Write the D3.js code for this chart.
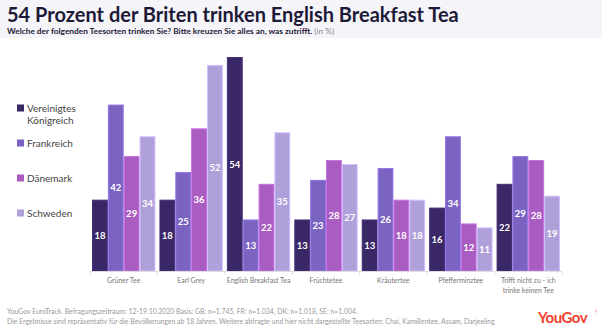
<!DOCTYPE html>
<html>
<head>
<meta charset="utf-8">
<script src="https://cdn.jsdelivr.net/npm/d3@7"></script>
<style>
  body { margin: 0; background: #fff; }
  svg { display: block; font-family: Lato, "Open Sans", sans-serif; }
</style>
</head>
<body>
<svg width="602" height="329"></svg>
<script>
// categories (two-line labels split by |)
var categories = ["Grüner Tee", "Earl Grey", "English Breakfast Tea", "Früchtetee", "Kräutertee", "Pfefferminztee", "Trifft nicht zu - ich|trinke keinen Tee"];
var countries = ["Vereinigtes Königreich", "Frankreich", "Dänemark", "Schweden"];
var colors = ["#392766", "#7b63c1", "#a95dc0", "#afa0da"];

// values in %, one array per country
var uk = [18, 18, 54, 13, 13, 16, 22];
var fr = [42, 25, 13, 23, 26, 34, 29];
var dk = [29, 36, 22, 28, 18, 12, 28];
var se = [34, 52, 35, 27, 18, 11, 19];
var series = [uk, fr, dk, se];

var svg = d3.select("svg");

// header band
svg.append("rect").attr("x", 0).attr("y", 0).attr("width", 602).attr("height", 38).attr("fill", "#f5f4f9");
svg.append("text").attr("x", 7).attr("y", 22)
  .attr("font-size", 20).attr("font-weight", 700).attr("fill", "#1d1a38")
  .text("54 Prozent der Briten trinken English Breakfast Tea");
var sub = svg.append("text").attr("x", 7).attr("y", 33.5)
  .attr("font-size", 8.3).attr("font-weight", 700).attr("fill", "#1d1a38");
sub.append("tspan").text("Welche der folgenden Teesorten trinken Sie? Bitte kreuzen Sie alles an, was zutrifft. ");
sub.append("tspan").attr("font-weight", 400).attr("fill", "#888").text("(in %)");

// scales
var x0 = d3.scaleBand().domain(categories).range([90, 562]).paddingInner(0.06).paddingOuter(0.03);
var x1 = d3.scaleBand().domain(d3.range(4)).range([0, x0.bandwidth()]);
var y = d3.scaleLinear().domain([0, 54]).range([271, 57]);

// bars
var groups = svg.selectAll(".grp")
  .data(categories)
  .enter().append("g")
    .attr("transform", function(d) { return "translate(" + x0(d) + ",0)"; });

groups.each(function(cat, ci) {
  var g = d3.select(this);
  series.forEach(function(s, si) {
    var v = s[ci];
    g.append("rect")
      .attr("x", x1(si) + 0.5)
      .attr("y", y(v) + 0.5)
      .attr("width", x1.bandwidth() - 1)
      .attr("height", y(0) - y(v) - 0.5)
      .attr("fill", colors[si])
      .attr("stroke", d3.color(colors[si]).brighter(0.5))
      .attr("stroke-width", 1);
    g.append("text")
      .attr("x", x1(si) + x1.bandwidth() / 2)
      .attr("y", (y(v) + y(0)) / 2 + 3.5)
      .attr("text-anchor", "middle")
      .attr("font-size", 9.5).attr("font-weight", 700).attr("fill", "#fff")
      .text(v);
  });
});

// axis line and ticks
svg.append("line").attr("x1", 90).attr("x2", 562).attr("y1", 271.5).attr("y2", 271.5)
  .attr("stroke", "#ddd").attr("stroke-width", 1);
var tickX = categories.map(function(c) { return x0(c) - x0.step() * x0.paddingInner() / 2; });
tickX.push(x0(categories[6]) + x0.bandwidth() + x0.step() * x0.paddingInner() / 2);
svg.selectAll(".tk").data(tickX).enter().append("line")
  .attr("x1", function(d) { return d; }).attr("x2", function(d) { return d; })
  .attr("y1", 271.5).attr("y2", 275)
  .attr("stroke", "#ddd");

// category labels
groups.append("text")
  .attr("x", x0.bandwidth() / 2)
  .attr("y", 283)
  .attr("text-anchor", "middle")
  .attr("font-size", 6.9).attr("fill", "#777")
  .selectAll("tspan")
  .data(function(d) { return d.split("|"); })
  .enter().append("tspan")
    .attr("x", x0.bandwidth() / 2)
    .attr("dy", function(d, i) { return i ? 10 : 0; })
    .text(function(d) { return d; });

// legend
var legendY = [112, 147, 182, 217];
countries.forEach(function(c, i) {
  svg.append("rect").attr("x", 17).attr("y", legendY[i] - 7.5).attr("width", 7).attr("height", 7).attr("fill", colors[i]);
  var words = i === 0 ? ["Vereinigtes", "Königreich"] : [c];
  words.forEach(function(w, j) {
    svg.append("text").attr("x", 27).attr("y", legendY[i] + j * 12)
      .attr("font-size", 10).attr("fill", "#444").text(w);
  });
});

// footer
svg.append("text").attr("x", 7).attr("y", 314).attr("font-size", 6.9).attr("fill", "#999")
  .text("YouGov EuroTrack. Befragungszeitraum: 12-19.10.2020 Basis: GB: n=1.745, FR: n=1.034, DK: n=1.018, SE: n=1.004.");
svg.append("text").attr("x", 7).attr("y", 323.5).attr("font-size", 6.9).attr("fill", "#999")
  .text("Die Ergebnisse sind repräsentativ für die Bevölkerungen ab 18 Jahren. Weitere abfragte und hier nicht dargestellte Teesorten: Chai, Kamillentee, Assam, Darjeeling");
svg.append("text").attr("x", 538).attr("y", 323).attr("font-size", 15).attr("font-weight", 700)
  .attr("fill", "#f0412d").attr("letter-spacing", -0.5).text("YouGov");
svg.append("text").attr("x", 595).attr("y", 313).attr("font-size", 3).attr("fill", "#f0412d").text("®");
</script>
</body>
</html>
